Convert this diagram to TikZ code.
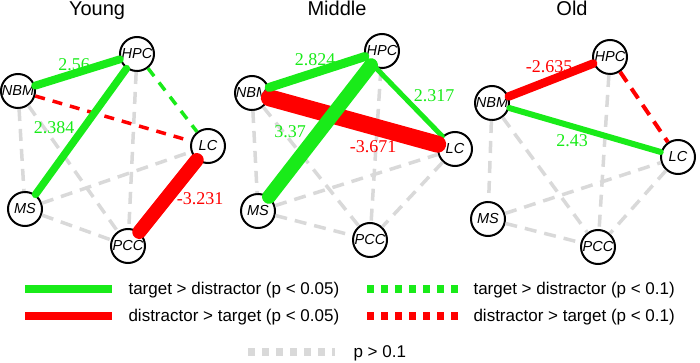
\documentclass[tikz,border=0pt]{standalone}
\usepackage{fontspec}
\setmainfont{Liberation Serif}
\setsansfont{Liberation Sans}
\usetikzlibrary{calc}
\definecolor{posgreen}{RGB}{25,235,25}
\definecolor{negred}{RGB}{255,0,0}
\definecolor{nsgray}{RGB}{217,217,217}

\begin{document}
\begin{tikzpicture}[
  x=1pt, y=-1pt,
  region/.style={circle, draw, line width=2pt, fill=white, minimum size=34pt, inner sep=0pt,
    font=\sffamily\itshape\fontsize{14.5}{14.5}\selectfont},
  panel/.style={anchor=base, font=\sffamily\fontsize{20}{20}\selectfont},
  tval/.style={font=\fontsize{18}{18}\selectfont},
  sig/.style={line cap=round},
  trend/.style={dash pattern=on 10pt off 8pt, line width=3.5pt},
  ns/.style={nsgray, dash pattern=on 12pt off 8pt, line width=3.5pt},
  legtext/.style={anchor=base west, font=\sffamily\fontsize{17}{17}\selectfont}
]
\useasboundingbox (0,0) rectangle (700,363);

% Young
\node[panel] (tYoung) at (97,16) {Young};
\foreach \n/\x/\y in {HPC/137/54, NBM/18/91, LC/208/146, MS/25/209, PCC/128/246}
  \node[region] (y\n) at (\x,\y) {\n};
\foreach \a/\b in {NBM/MS, NBM/PCC, HPC/PCC, MS/LC, MS/PCC}
  \draw[ns] (y\a) -- (y\b);
\draw[trend, negred] (yNBM) -- (yLC);
\draw[trend, posgreen] (yHPC) -- (yLC);
\draw[sig, posgreen, line width=8pt] (yNBM) -- (yHPC);
\draw[sig, posgreen, line width=7.5pt] (yHPC) -- (yMS);
\draw[sig, negred, line width=14pt] (yLC) -- (yPCC);
\node[tval, posgreen] (yv1) at (74,65) {2.56};
\node[tval, posgreen] (yv2) at (54,128) {2.384};
\node[tval, negred] (yv3) at (200,199) {-3.231};

% Middle
\node[panel] (tMiddle) at (337,16) {Middle};
\foreach \n/\x/\y in {HPC/382/51, NBM/252/93, LC/455/149, MS/258/211, PCC/370/240}
  \node[region] (m\n) at (\x,\y) {\n};
\foreach \a/\b in {NBM/MS, NBM/PCC, HPC/PCC, MS/LC, MS/PCC, LC/PCC}
  \draw[ns] (m\a) -- (m\b);
\draw[sig, posgreen, line width=5pt] (mHPC.250) -- (mLC.135);
\draw[sig, negred, line width=17pt] (mNBM) -- (mLC);
\draw[sig, posgreen, line width=9pt] (mNBM) -- (mHPC);
\draw[sig, posgreen, line width=14pt] (mHPC) -- (mMS);
\node[tval, posgreen] (mv1) at (315,60) {2.824};
\node[tval, posgreen] (mv2) at (434,96) {2.317};
\node[tval, posgreen] (mv3) at (290,132) {3.37};
\node[tval, negred] (mv4) at (373,147) {-3.671};

% Old
\node[panel] (tOld) at (572,16) {Old};
\foreach \n/\x/\y in {HPC/610/57, NBM/492/103, LC/678/157, MS/488/219, PCC/598/247}
  \node[region] (o\n) at (\x,\y) {\n};
\foreach \a/\b in {NBM/MS, NBM/PCC, HPC/PCC, MS/LC, MS/PCC, LC/PCC}
  \draw[ns] (o\a) -- (o\b);
\draw[trend, negred, line width=4pt, dash pattern=on 12pt off 8pt] (oHPC) -- (oLC);
\draw[sig, negred, line width=8.5pt] (oNBM) -- (oHPC);
\draw[sig, posgreen, line width=6pt] (oNBM) -- (oLC);
\node[tval, negred] (ov1) at (549,67) {-2.635};
\node[tval, posgreen] (ov2) at (572,141) {2.43};

% legend
\draw[posgreen, line width=8pt] (25,289) -- (112,289);
\node[legtext] (lg1) at (125,294.5) {target > distractor (p < 0.05)};
\draw[negred, line width=8pt] (25,316) -- (112,316);
\node[legtext] (lg2) at (125,321.5) {distractor > target (p < 0.05)};
\draw[posgreen, line width=8pt, dash pattern=on 7pt off 7pt] (367,289) -- (458,289);
\node[legtext] (lg3) at (470,294.5) {target > distractor (p < 0.1)};
\draw[negred, line width=8pt, dash pattern=on 7pt off 7pt] (367,316) -- (458,316);
\node[legtext] (lg4) at (470,321.5) {distractor > target (p < 0.1)};
\draw[nsgray, line width=8pt, dash pattern=on 7pt off 7pt] (248,352) -- (335,352);
\node[legtext] (lg5) at (350,357.5) {p > 0.1};
\end{tikzpicture}
\end{document}
